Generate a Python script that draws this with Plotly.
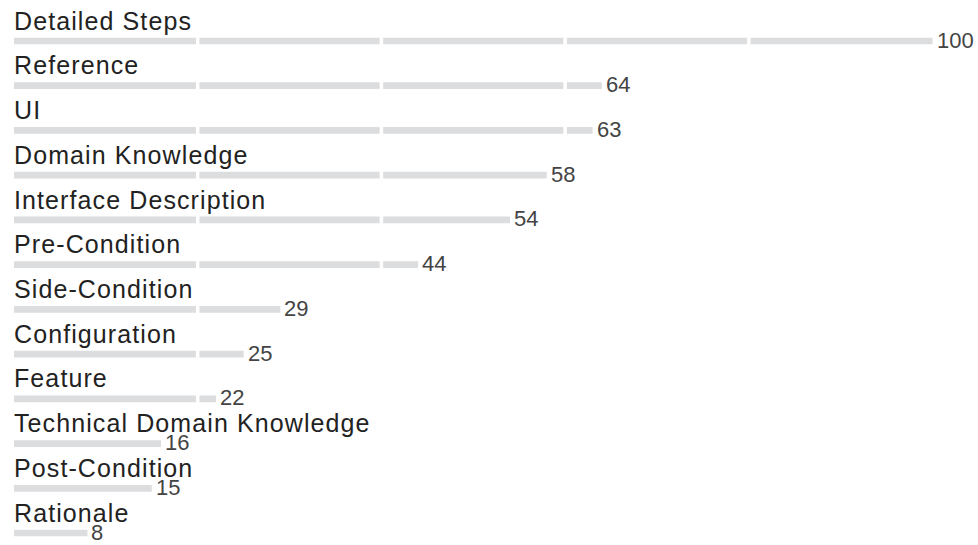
import plotly.graph_objects as go

categories = ["Detailed Steps", "Reference", "UI", "Domain Knowledge",
              "Interface Description", "Pre-Condition", "Side-Condition",
              "Configuration", "Feature", "Technical Domain Knowledge",
              "Post-Condition", "Rationale"]
values = [100, 64, 63, 58, 54, 44, 29, 25, 22, 16, 15, 8]
grid_ticks = [20, 40, 60, 80]

BAR_COLOR = "#dcdddf"
LABEL_FONT = "Liberation Sans, Arial, Helvetica, sans-serif"

fig = go.Figure()
fig.add_trace(go.Bar(
    x=values, y=categories, orientation="h",
    marker=dict(color=BAR_COLOR, line=dict(width=0)),
    width=0.15, hoverinfo="skip",
))

# category labels first (annotation indices 0..n-1), value labels after
annotations = []
for cat in categories:
    annotations.append(dict(
        x=0, y=cat, xref="x", yref="y", text=cat, showarrow=False,
        xanchor="left", yanchor="middle", align="left", xshift=-2, yshift=20.4,
        font=dict(family=LABEL_FONT, size=25, color="#222222"),
    ))
for cat, val in zip(categories, values):
    annotations.append(dict(
        x=val, y=cat, xref="x", yref="y", text=str(val), showarrow=False,
        xanchor="left", yanchor="middle", align="left", xshift=2, yshift=1,
        font=dict(family=LABEL_FONT, size=22, color="#444444"),
    ))

shapes = [dict(type="line", xref="x", yref="paper", x0=g, x1=g, y0=0, y1=1,
               line=dict(color="white", width=3.5), layer="above")
          for g in grid_ticks]

fig.update_layout(
    width=978, height=545,
    margin=dict(l=0, r=0, t=0, b=0),
    paper_bgcolor="white", plot_bgcolor="white",
    showlegend=False,
    annotations=annotations,
    shapes=shapes,
    xaxis=dict(range=[-1.524, 104.95], showgrid=False, zeroline=False,
               showticklabels=False, showline=False, ticks="",
               fixedrange=True),
    yaxis=dict(categoryorder="array", categoryarray=categories,
               range=[11.268, -0.9166], showgrid=False, zeroline=False,
               showticklabels=False, showline=False, ticks="",
               fixedrange=True),
)

n_cat = len(categories)
post = (
    "var sel=[];for(var i=0;i<%d;i++){sel.push('.annotation[data-index=\"'+i+'\"] text');}"
    "var st=document.createElement('style');"
    "st.textContent='body{margin:0;overflow:hidden}'+sel.join(',')+'{letter-spacing:1.1px}';"
    "document.head.appendChild(st);" % n_cat
)

fig.write_html("out.html", config={"displayModeBar": False}, post_script=post)
